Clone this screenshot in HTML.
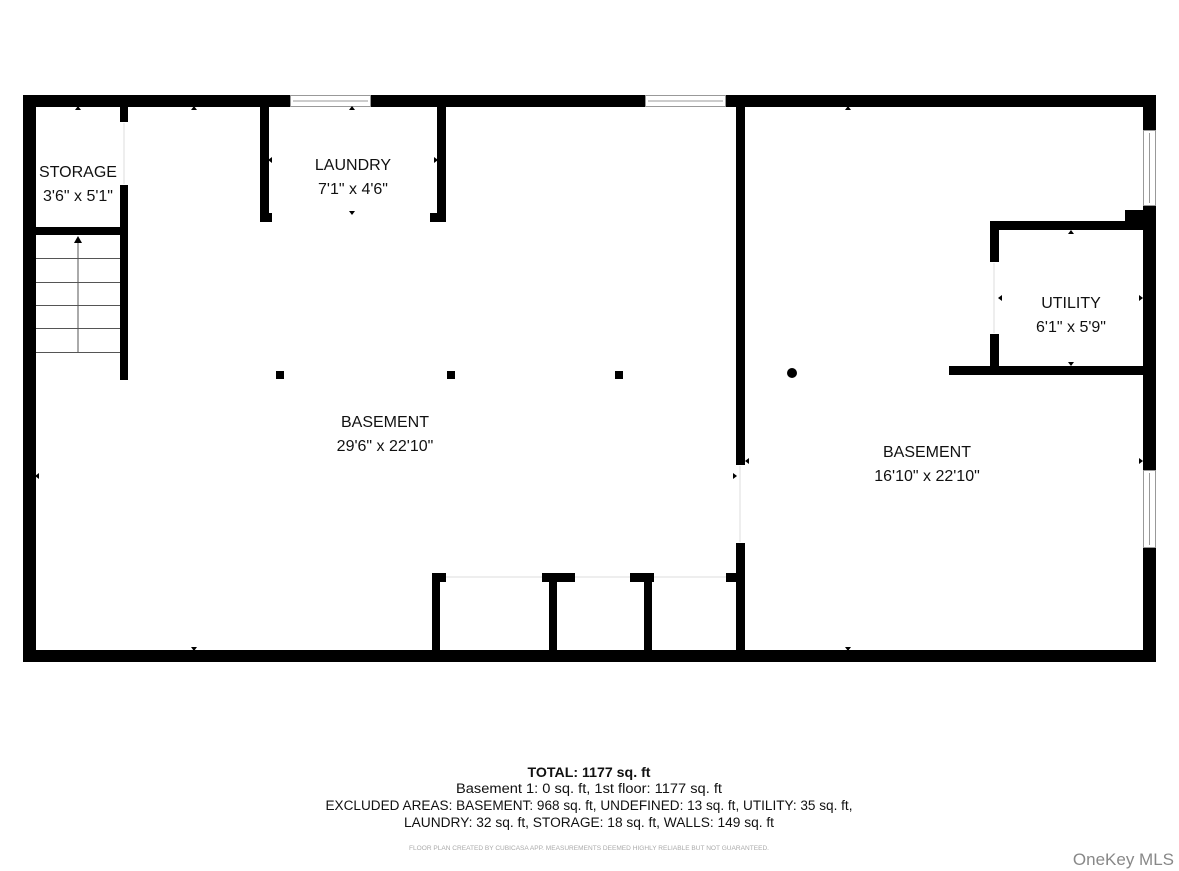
<!DOCTYPE html>
<html><head><meta charset="utf-8"><style>
html,body{margin:0;padding:0;background:#fff;width:1179px;height:871px;overflow:hidden}
svg{display:block}
text{font-family:"Liberation Sans",sans-serif;fill:#111}
</style></head><body>
<svg width="1179" height="871" viewBox="0 0 1179 871" xmlns="http://www.w3.org/2000/svg">
<g fill="#000">
<!-- outer walls -->
<rect x="23" y="95" width="1133" height="12"/>
<rect x="23" y="650" width="1133" height="12"/>
<rect x="23" y="95" width="13" height="567"/>
<rect x="1143" y="95" width="13" height="567"/>
<!-- storage -->
<rect x="120" y="107" width="8" height="15"/>
<rect x="120" y="185" width="8" height="195"/>
<rect x="36" y="227" width="92" height="8"/>
<!-- laundry -->
<rect x="260" y="107" width="9" height="115"/>
<rect x="260" y="213" width="12" height="9"/>
<rect x="437" y="107" width="9" height="115"/>
<rect x="430" y="213" width="16" height="9"/>
<!-- middle wall -->
<rect x="736" y="107" width="9" height="358"/>
<rect x="736" y="543" width="9" height="119"/>
<!-- columns -->
<rect x="276" y="371" width="8" height="8"/>
<rect x="447" y="371" width="8" height="8"/>
<rect x="615" y="371" width="8" height="8"/>
<circle cx="792" cy="373" r="5"/>
<!-- utility -->
<rect x="990" y="221" width="153" height="9"/>
<rect x="1125" y="210" width="18" height="20"/>
<rect x="990" y="221" width="9" height="41"/>
<rect x="990" y="334" width="9" height="40"/>
<rect x="949" y="366" width="194" height="9"/>
<!-- bottom closets -->
<rect x="432" y="573" width="8" height="80"/>
<rect x="432" y="573" width="14" height="9"/>
<rect x="542" y="573" width="33" height="9"/>
<rect x="549" y="573" width="8" height="80"/>
<rect x="630" y="573" width="24" height="9"/>
<rect x="644" y="573" width="8" height="80"/>
<rect x="726" y="573" width="12" height="9"/>
</g>
<!-- windows -->
<g fill="#fff" stroke="#999" stroke-width="1">
<rect x="290.5" y="95.5" width="80" height="11"/>
<rect x="645.5" y="95.5" width="80" height="11"/>
<rect x="1143.5" y="130.5" width="12" height="75"/>
<rect x="1143.5" y="470.5" width="12" height="77"/>
</g>
<g stroke="#999" stroke-width="1">
<line x1="293" y1="101" x2="368" y2="101"/>
<line x1="648" y1="101" x2="723" y2="101"/>
<line x1="1149.5" y1="133" x2="1149.5" y2="203"/>
<line x1="1149.5" y1="473" x2="1149.5" y2="545"/>
</g>
<g stroke="#ddd" stroke-width="1">
<line x1="446" y1="577" x2="542" y2="577"/>
<line x1="575" y1="577" x2="630" y2="577"/>
<line x1="654" y1="577" x2="726" y2="577"/>
<line x1="740" y1="466" x2="740" y2="542"/>
<line x1="994" y1="263" x2="994" y2="333"/>
<line x1="124" y1="123" x2="124" y2="184"/>
</g>
<!-- stairs -->
<g stroke="#555" stroke-width="1">
<line x1="36" y1="258.5" x2="120" y2="258.5"/>
<line x1="36" y1="282.5" x2="120" y2="282.5"/>
<line x1="36" y1="305.5" x2="120" y2="305.5"/>
<line x1="36" y1="328.5" x2="120" y2="328.5"/>
<line x1="36" y1="352.5" x2="120" y2="352.5"/>
<line x1="78" y1="240" x2="78" y2="352"/>
</g>
<polygon points="74,243 82,243 78,236" fill="#000"/>
<!-- small markers -->
<g fill="#000">
<polygon points="75,110 81,110 78,106"/>
<polygon points="191,110 197,110 194,106"/>
<polygon points="349,110 355,110 352,106"/>
<polygon points="845,110 851,110 848,106"/>
<polygon points="1068,234 1074,234 1071,230"/>
<polygon points="349,211 355,211 352,215"/>
<polygon points="1068,362 1074,362 1071,366"/>
<polygon points="191,647 197,647 194,651"/>
<polygon points="845,647 851,647 848,651"/>
<polygon points="272,157 272,163 268,160"/>
<polygon points="434,157 434,163 438,160"/>
<polygon points="39,473 39,479 35,476"/>
<polygon points="733,473 733,479 737,476"/>
<polygon points="749,458 749,464 745,461"/>
<polygon points="1139,458 1139,464 1143,461"/>
<polygon points="1002,295 1002,301 998,298"/>
<polygon points="1139,295 1139,301 1143,298"/>
</g>
<!-- labels -->
<g font-size="16" text-anchor="middle">
<text x="78" y="177">STORAGE</text>
<text x="78" y="201">3'6" x 5'1"</text>
<text x="353" y="170">LAUNDRY</text>
<text x="353" y="194">7'1" x 4'6"</text>
<text x="385" y="427">BASEMENT</text>
<text x="385" y="451">29'6" x 22'10"</text>
<text x="1071" y="308">UTILITY</text>
<text x="1071" y="332">6'1" x 5'9"</text>
<text x="927" y="457">BASEMENT</text>
<text x="927" y="481">16'10" x 22'10"</text>
</g>
<g text-anchor="middle" font-size="13.5">
<text x="589" y="777" font-weight="bold" textLength="123" lengthAdjust="spacingAndGlyphs">TOTAL: 1177 sq. ft</text>
<text x="589" y="793" textLength="266" lengthAdjust="spacingAndGlyphs">Basement 1: 0 sq. ft, 1st floor: 1177 sq. ft</text>
<text x="589" y="810" textLength="527" lengthAdjust="spacingAndGlyphs">EXCLUDED AREAS: BASEMENT: 968 sq. ft, UNDEFINED: 13 sq. ft, UTILITY: 35 sq. ft,</text>
<text x="589" y="827" textLength="370" lengthAdjust="spacingAndGlyphs">LAUNDRY: 32 sq. ft, STORAGE: 18 sq. ft, WALLS: 149 sq. ft</text>
<text x="589" y="850" font-size="6" style="fill:#aaa" textLength="360" lengthAdjust="spacingAndGlyphs">FLOOR PLAN CREATED BY CUBICASA APP. MEASUREMENTS DEEMED HIGHLY RELIABLE BUT NOT GUARANTEED.</text>
</g>
<text x="1174" y="865" text-anchor="end" font-size="17" style="fill:#888">OneKey MLS</text>
</svg>
</body></html>
